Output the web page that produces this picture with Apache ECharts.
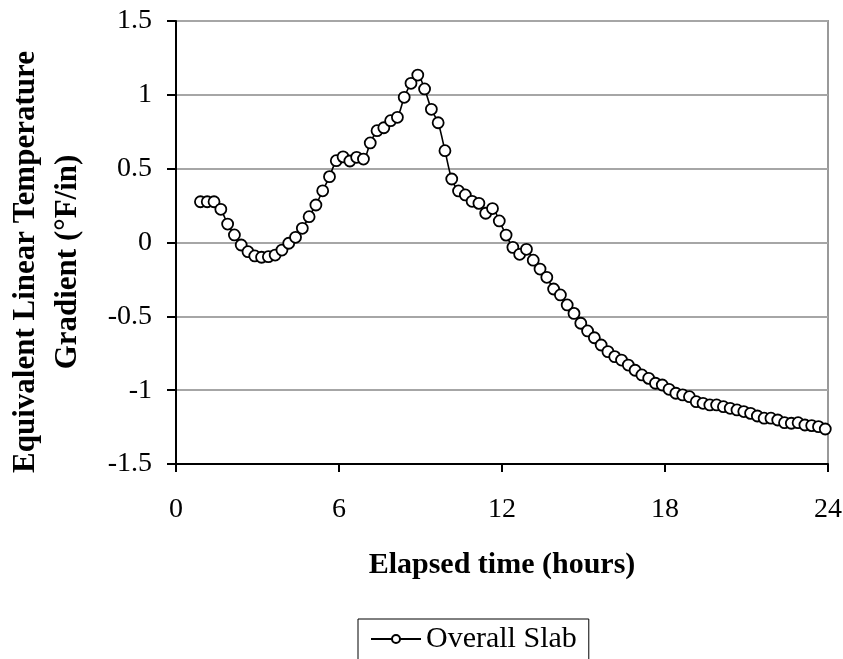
<!DOCTYPE html>
<html>
<head>
<meta charset="utf-8">
<script src="https://cdn.jsdelivr.net/npm/echarts@6/dist/echarts.min.js"></script>
<style>
  html, body { margin: 0; padding: 0; background: #fff; }
  #main { width: 843px; height: 659px; }
</style>
</head>
<body>
<div id="main"></div>
<script>
// elapsed time (hours), readings every 15 min
var hours = [
  0.9, 1.15, 1.4, 1.65, 1.9, 2.15, 2.4, 2.65, 2.9, 3.15,
  3.4, 3.65, 3.9, 4.15, 4.4, 4.65, 4.9, 5.15, 5.4, 5.65,
  5.9, 6.15, 6.4, 6.65, 6.9, 7.15, 7.4, 7.65, 7.9, 8.15,
  8.4, 8.65, 8.9, 9.15, 9.4, 9.65, 9.9, 10.15, 10.4, 10.65,
  10.9, 11.15, 11.4, 11.65, 11.9, 12.15, 12.4, 12.65, 12.9, 13.15,
  13.4, 13.65, 13.9, 14.15, 14.4, 14.65, 14.9, 15.15, 15.4, 15.65,
  15.9, 16.15, 16.4, 16.65, 16.9, 17.15, 17.4, 17.65, 17.9, 18.15,
  18.4, 18.65, 18.9, 19.15, 19.4, 19.65, 19.9, 20.15, 20.4, 20.65,
  20.9, 21.15, 21.4, 21.65, 21.9, 22.15, 22.4, 22.65, 22.9, 23.15,
  23.4, 23.65, 23.9
];

// equivalent linear temperature gradient (°F/in)
var overallSlab = [
  0.276, 0.276, 0.276, 0.225, 0.125, 0.051, -0.017, -0.062, -0.091, -0.100,
  -0.096, -0.085, -0.051, -0.005, 0.035, 0.096, 0.175, 0.254, 0.350, 0.446,
  0.554, 0.580, 0.552, 0.577, 0.565, 0.674, 0.757, 0.777, 0.825, 0.848,
  0.983, 1.078, 1.134, 1.040, 0.902, 0.811, 0.622, 0.430, 0.349, 0.322,
  0.279, 0.265, 0.198, 0.230, 0.146, 0.050, -0.033, -0.080, -0.046, -0.120,
  -0.180, -0.236, -0.315, -0.355, -0.423, -0.480, -0.547, -0.599, -0.645, -0.694,
  -0.739, -0.773, -0.796, -0.830, -0.865, -0.897, -0.920, -0.953, -0.965, -0.994,
  -1.021, -1.032, -1.044, -1.078, -1.089, -1.100, -1.100, -1.112, -1.123, -1.134,
  -1.145, -1.157, -1.175, -1.190, -1.190, -1.202, -1.220, -1.224, -1.220, -1.236,
  -1.240, -1.247, -1.263
];

var seriesName = 'Overall Slab';
var yTitle = 'Equivalent Linear Temperature\nGradient (°F/in)';
var xTitle = 'Elapsed time (hours)';

var myChart = echarts.init(document.getElementById('main'));

var points = [];
for (var i = 0; i < hours.length; i++) {
    points.push([hours[i], overallSlab[i]]);
}

var serif = "'Liberation Serif', 'Times New Roman', serif";

var option = {
    backgroundColor: '#fff',
    animation: false,
    textStyle: { fontFamily: serif, color: '#000' },
    grid: {
        left: 176,
        right: 15,
        top: 21,
        bottom: 195,
        containLabel: false,
        outerBoundsMode: 'none',
        show: true,
        borderColor: '#999',
        borderWidth: 2,
        backgroundColor: 'transparent'
    },
    // y axis title, two lines, rotated
    graphic: [
        {
            type: 'text',
            x: 47,
            y: 262,
            rotation: Math.PI / 2,
            style: {
                text: yTitle,
                fontFamily: serif,
                fontSize: 31,
                fontWeight: 'bold',
                lineHeight: 42,
                fill: '#000',
                align: 'center',
                verticalAlign: 'middle'
            }
        }
    ],
    legend: {
        data: [seriesName],
        left: 358,
        top: 619,
        width: 235,
        padding: [5, 12, 8, 12],
        borderColor: '#000',
        borderWidth: 1,
        itemWidth: 50,
        itemHeight: 10,
        itemGap: 8,
        textStyle: { fontFamily: serif, fontSize: 30, color: '#000' }
    },
    xAxis: {
        type: 'value',
        min: 0,
        max: 24,
        interval: 6,
        name: xTitle,
        nameLocation: 'middle',
        nameGap: 86,
        nameTextStyle: { fontFamily: serif, fontSize: 30, fontWeight: 'bold', color: '#000' },
        axisLine: { onZero: false, lineStyle: { color: '#000', width: 2 } },
        axisTick: { show: true, inside: false, length: 8, lineStyle: { color: '#000', width: 2 } },
        axisLabel: { fontFamily: serif, fontSize: 28, color: '#000', margin: 32 },
        splitLine: { show: false }
    },
    yAxis: {
        type: 'value',
        min: -1.5,
        max: 1.5,
        interval: 0.5,
        axisLine: { show: true, onZero: false, lineStyle: { color: '#000', width: 2 } },
        axisTick: { show: true, inside: false, length: 9, lineStyle: { color: '#000', width: 2 } },
        axisLabel: { fontFamily: serif, fontSize: 28, color: '#000', margin: 24 },
        splitLine: { show: true, lineStyle: { color: '#a6a6a6', width: 2 } }
    },
    series: [
        {
            name: seriesName,
            type: 'line',
            data: points,
            smooth: 0.3,
            symbol: 'circle',
            symbolSize: 11,
            showAllSymbol: true,
            lineStyle: { color: '#000', width: 1.6 },
            itemStyle: { color: '#fff', borderColor: '#000', borderWidth: 1.8 }
        }
    ]
};

myChart.setOption(option);
</script>
</body>
</html>
